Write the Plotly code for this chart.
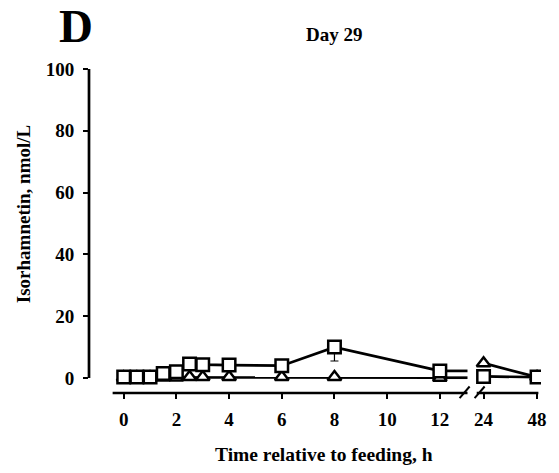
import plotly.graph_objects as go

# ---- data ----
time_h = [0, 0.5, 1, 1.5, 2, 2.5, 3, 4, 6, 8, 12, 24, 48]
square_vals = [0.3, 0.3, 0.3, 1.5, 2.0, 4.5, 4.3, 4.2, 4.0, 10.0, 2.3, 0.5, 0.3]
square_err_minus = [0, 0, 0, 0, 0, 0, 0, 0, 0, 4.5, 0, 0, 0]
triangle_vals = [0.2, 0.2, 0.2, 0.2, 0.2, 0.3, 0.3, 0.3, 0.3, 0.3, 0.1, 4.8, 0.3]
tick_times = [0, 2, 4, 6, 8, 10, 12, 24, 48]
tick_labels = ["0", "2", "4", "6", "8", "10", "12", "24", "48"]
y_ticks = [0, 20, 40, 60, 80, 100]

# broken x axis: hours after 12 sit on a compressed scale
break_pos = {24: 13.66, 48: 15.69}
break_left, break_right = 13.05, 13.4


def pos(t):
    return break_pos.get(t, t)


FONT = "Liberation Serif"


def split(vals, extra=None):
    """x positions / values with a gap (None) at the axis break."""
    xs, ys, es = [], [], []
    prev_t = None
    for i, (t, v) in enumerate(zip(time_h, vals)):
        if prev_t is not None and prev_t <= 12 < t:
            xs.append(None)
            ys.append(None)
            es.append(0)
        xs.append(pos(t))
        ys.append(v)
        es.append(extra[i] if extra is not None else 0)
        prev_t = t
    return xs, ys, es


fig = go.Figure()

for vals, sym, err, msize in [(triangle_vals, "triangle-up", None, 12),
                              (square_vals, "square", square_err_minus, 12.5)]:
    xs, ys, es = split(vals, err)
    v12 = vals[time_h.index(12)]
    fig.add_trace(go.Scatter(x=[pos(12), break_left], y=[v12, v12], mode="lines",
                             line=dict(color="black", width=2.7), showlegend=False,
                             hoverinfo="skip"))
    errs = None
    if err is not None:
        errs = dict(type="data", symmetric=False, array=[0] * len(es), arrayminus=es,
                    color="black", thickness=1.2, width=4)
    fig.add_trace(go.Scatter(
        x=xs, y=ys, mode="lines+markers", connectgaps=False,
        line=dict(color="black", width=2.7),
        marker=dict(symbol=sym, size=msize, color="white", line=dict(color="black", width=2.5)),
        error_y=errs, showlegend=False))

shapes = [
    # y axis line
    dict(type="line", xref="paper", yref="y", x0=0, x1=0, y0=0, y1=100,
         line=dict(color="black", width=2.7)),
    # x axis segments
    dict(type="line", xref="x", yref="paper", x0=-0.42, x1=break_left, y0=0, y1=0,
         line=dict(color="black", width=2.7)),
    dict(type="line", xref="x", yref="paper", x0=break_right, x1=pos(48) + 0.05, y0=0, y1=0,
         line=dict(color="black", width=2.7)),
    # break marks
    dict(type="line", xref="x", yref="paper", x0=12.75, x1=13.13, y0=-0.016, y1=0.02,
         line=dict(color="black", width=2)),
    dict(type="line", xref="x", yref="paper", x0=13.32, x1=13.70, y0=-0.016, y1=0.02,
         line=dict(color="black", width=2)),
]

fig.update_layout(
    width=559, height=473,
    margin=dict(l=89, r=14, t=68, b=80),
    plot_bgcolor="white", paper_bgcolor="white",
    font=dict(family=FONT, color="black", size=16),
    shapes=shapes,
    xaxis=dict(range=[-1.317, 15.84], showline=False, showgrid=False, zeroline=False,
               tickvals=[pos(t) for t in tick_times], ticktext=["<b>%s</b>" % s for s in tick_labels],
               ticks="outside", ticklen=5, tickwidth=2, tickcolor="black", ticklabelstandoff=4,
               tickfont=dict(family=FONT, size=19, color="black")),
    yaxis=dict(range=[-4.85, 100.32], showline=False, showgrid=False, zeroline=False,
               tickvals=y_ticks, ticktext=["<b>%d</b>" % v for v in y_ticks],
               ticks="outside", ticklen=5, tickwidth=2, tickcolor="black", ticklabelstandoff=5,
               tickfont=dict(family=FONT, size=19, color="black")),
    annotations=[
        dict(text="<b>D</b>", xref="paper", yref="paper", x=-0.0285, y=1.129,
             xanchor="center", yanchor="middle",
             showarrow=False, font=dict(family=FONT, size=47, color="black")),
        dict(text="<b>Day 29</b>", xref="paper", yref="paper", x=0.542, y=1.104,
             xanchor="center", yanchor="middle",
             showarrow=False, font=dict(family=FONT, size=19, color="black")),
        dict(text="<b>Isorhamnetin, nmol/L</b>", xref="paper", yref="paper", x=-0.1447, y=0.549,
             xanchor="center", yanchor="middle",
             textangle=-90, showarrow=False, font=dict(family=FONT, size=19, color="black")),
        dict(text="<b>Time relative to feeding, h</b>", xref="paper", yref="paper", x=0.52, y=-0.19,
             xanchor="center", yanchor="middle",
             showarrow=False, font=dict(family=FONT, size=19.5, color="black")),
    ],
)

fig.write_html("out.html")
